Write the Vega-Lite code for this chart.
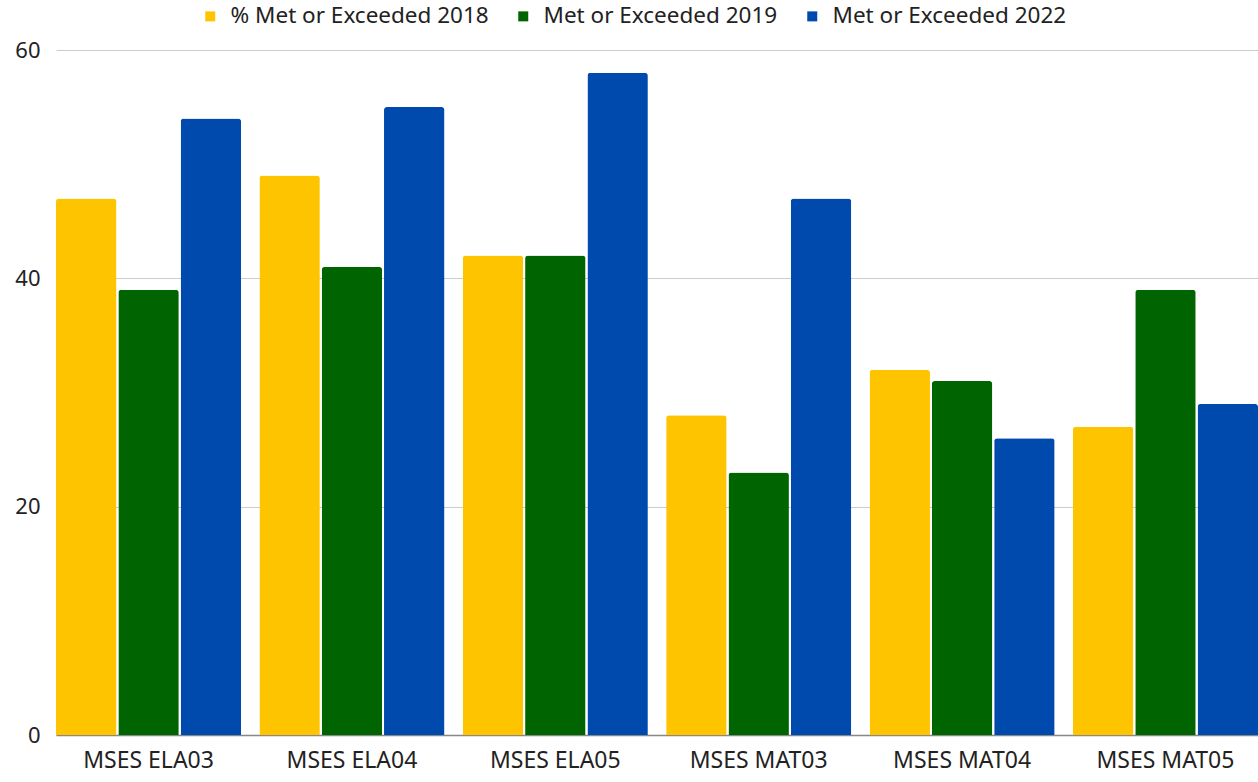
{
  "$schema": "https://vega.github.io/schema/vega-lite/v6.json",
  "width": 1258,
  "height": 782,
  "autosize": {"type": "fit", "contains": "padding"},
  "padding": {"left": 14, "right": 0, "top": 39, "bottom": 10},
  "background": "white",
  "config": {
    "font": "Noto Sans",
    "view": {"stroke": null}
  },
  "data": {
    "values": [
      {"cat": "MSES ELA03", "series": "% Met or Exceeded 2018", "v": 47},
      {"cat": "MSES ELA03", "series": "Met or Exceeded 2019", "v": 39},
      {"cat": "MSES ELA03", "series": "Met or Exceeded 2022", "v": 54},
      {"cat": "MSES ELA04", "series": "% Met or Exceeded 2018", "v": 49},
      {"cat": "MSES ELA04", "series": "Met or Exceeded 2019", "v": 41},
      {"cat": "MSES ELA04", "series": "Met or Exceeded 2022", "v": 55},
      {"cat": "MSES ELA05", "series": "% Met or Exceeded 2018", "v": 42},
      {"cat": "MSES ELA05", "series": "Met or Exceeded 2019", "v": 42},
      {"cat": "MSES ELA05", "series": "Met or Exceeded 2022", "v": 58},
      {"cat": "MSES MAT03", "series": "% Met or Exceeded 2018", "v": 28},
      {"cat": "MSES MAT03", "series": "Met or Exceeded 2019", "v": 23},
      {"cat": "MSES MAT03", "series": "Met or Exceeded 2022", "v": 47},
      {"cat": "MSES MAT04", "series": "% Met or Exceeded 2018", "v": 32},
      {"cat": "MSES MAT04", "series": "Met or Exceeded 2019", "v": 31},
      {"cat": "MSES MAT04", "series": "Met or Exceeded 2022", "v": 26},
      {"cat": "MSES MAT05", "series": "% Met or Exceeded 2018", "v": 27},
      {"cat": "MSES MAT05", "series": "Met or Exceeded 2019", "v": 39},
      {"cat": "MSES MAT05", "series": "Met or Exceeded 2022", "v": 29}
    ]
  },
  "mark": {"type": "bar", "cornerRadiusTopLeft": 3, "cornerRadiusTopRight": 3},
  "encoding": {
    "x": {
      "field": "cat",
      "type": "nominal",
      "sort": null,
      "title": null,
      "scale": {"paddingInner": 0.09, "paddingOuter": 0},
      "axis": {
        "labelAngle": 0,
        "labelFontSize": 23,
        "labelColor": "#222222",
        "labelPadding": 14,
        "ticks": false,
        "domainColor": "#888888",
        "domainWidth": 1.5,
        "grid": false
      }
    },
    "xOffset": {
      "field": "series",
      "type": "nominal",
      "sort": ["% Met or Exceeded 2018", "Met or Exceeded 2019", "Met or Exceeded 2022"],
      "scale": {"paddingInner": 0.03, "paddingOuter": 0}
    },
    "y": {
      "field": "v",
      "type": "quantitative",
      "title": null,
      "scale": {"domain": [0, 60], "nice": false},
      "axis": {
        "values": [0, 20, 40, 60],
        "labelFontSize": 22,
        "labelColor": "#222222",
        "labelPadding": 16,
        "ticks": false,
        "domain": false,
        "gridColor": "#cccccc",
        "gridWidth": 1
      }
    },
    "color": {
      "field": "series",
      "type": "nominal",
      "title": null,
      "scale": {
        "domain": ["% Met or Exceeded 2018", "Met or Exceeded 2019", "Met or Exceeded 2022"],
        "range": ["#FFC400", "#006400", "#004AAD"]
      },
      "legend": {
        "orient": "none",
        "legendX": 143,
        "legendY": -45,
        "direction": "horizontal",
        "symbolType": "square",
        "symbolSize": 100,
        "symbolStrokeWidth": 0,
        "labelFontSize": 22.5,
        "labelLimit": 400,
        "labelColor": "#222222",
        "columnPadding": 23,
        "labelOffset": 9,
        "padding": 0
      }
    }
  }
}
